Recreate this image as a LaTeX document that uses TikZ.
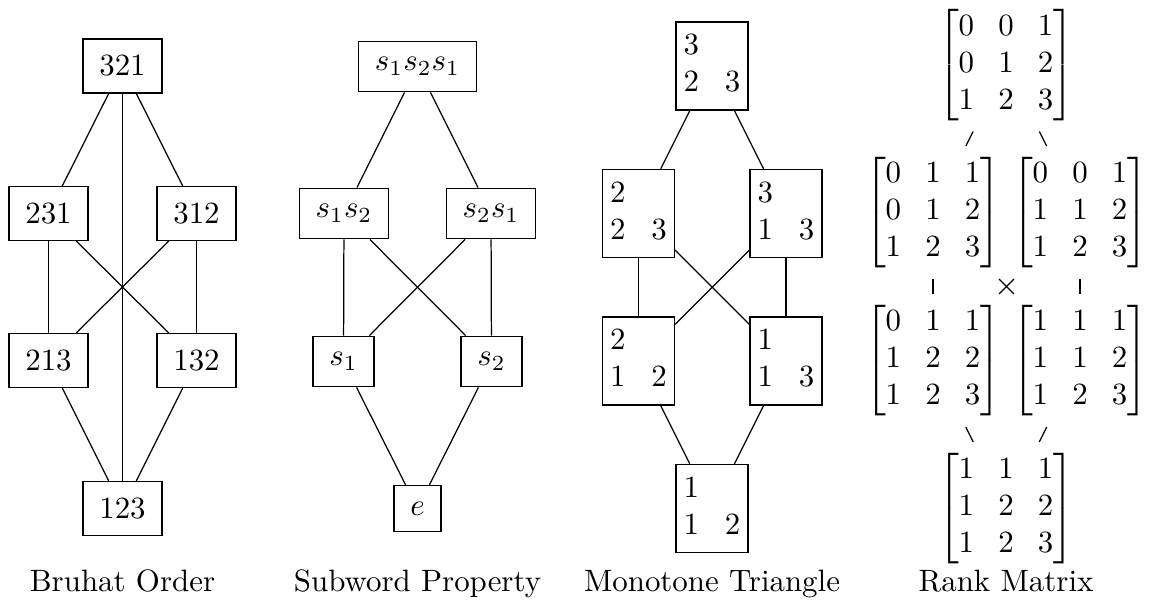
\documentclass[tikz,border=0pt]{standalone}
\usepackage{amsmath}
\begin{document}
\begin{tikzpicture}[x=0.3236pt, y=-0.3236pt,
  elem/.style={draw, inner sep=5.3pt},
  tri/.style={draw, minimum width=23.3pt, minimum height=28.5pt, inner sep=0pt},
  rank/.style={inner sep=3.33pt, execute at begin node={\arraycolsep=3.9pt}},
  caption/.style={anchor=base},
  cover/.style={line width=0.4pt}]
\useasboundingbox (0,0) rectangle (1149,601);

% Bruhat order on S_3
\node[elem] (b321) at (122.5,66)    {321};
\node[elem] (b231) at (48.5,213.5)  {231};
\node[elem] (b312) at (196.5,213.5) {312};
\node[elem] (b213) at (48.5,360.5)  {213};
\node[elem] (b132) at (196.5,360.5) {132};
\node[elem] (b123) at (122.5,508.5) {123};
\draw[cover] (b321) -- (b231);
\draw[cover] (b321) -- (b312);
\draw[cover] (b321) -- (b123);
\draw[cover] (b231) -- (b213);
\draw[cover] (b231) -- (b132);
\draw[cover] (b312) -- (b213);
\draw[cover] (b312) -- (b132);
\draw[cover] (b213) -- (b123);
\draw[cover] (b132) -- (b123);
\node[caption] (capB) at (122.5,592) {Bruhat Order};

% Reduced words
\node[elem] (w121) at (417.5,66.5)  {$s_1s_2s_1$};
\node[elem] (w12)  at (344,213.5)   {$s_1s_2$};
\node[elem] (w21)  at (491,213.5)   {$s_2s_1$};
\node[elem] (w1)   at (343.5,361.5) {$s_1$};
\node[elem] (w2)   at (491.5,361.5) {$s_2$};
\node[elem] (we)   at (417.5,508.5) {$e$};
\draw[cover] (w121) -- (w12);
\draw[cover] (w121) -- (w21);
\draw[cover] (w12) -- (w1);
\draw[cover] (w12) -- (w2);
\draw[cover] (w21) -- (w1);
\draw[cover] (w21) -- (w2);
\draw[cover] (w1) -- (we);
\draw[cover] (w2) -- (we);
\node[caption] (capS) at (417.5,592) {Subword Property};

% Monotone triangles
\newcommand{\mtri}[3]{\begin{tabular}{@{}l@{\hspace{8.3pt}}l@{}}#1&\\#2&#3\end{tabular}}
\node[tri] (m1) at (712,66)      {\mtri{3}{2}{3}};
\node[tri] (m2) at (638.5,213.5) {\mtri{2}{2}{3}};
\node[tri] (m3) at (786,213.5)   {\mtri{3}{1}{3}};
\node[tri] (m4) at (638.5,361)   {\mtri{2}{1}{2}};
\node[tri] (m5) at (786,361)     {\mtri{1}{1}{3}};
\node[tri] (m6) at (712,508.5)   {\mtri{1}{1}{2}};
\draw[cover] (m1) -- (m2);
\draw[cover] (m1) -- (m3);
\draw[cover] (m2) -- (m4);
\draw[cover] (m2) -- (m5);
\draw[cover] (m3) -- (m4);
\draw[cover] (m3) -- (m5);
\draw[cover] (m4) -- (m6);
\draw[cover] (m5) -- (m6);
\node[caption] (capM) at (712,592) {Monotone Triangle};

% Rank matrices
\node[rank] (r1) at (1006,65)    {$\begin{bmatrix}0&0&1\\0&1&2\\1&2&3\end{bmatrix}$};
\node[rank] (r2) at (933,212.5)  {$\begin{bmatrix}0&1&1\\0&1&2\\1&2&3\end{bmatrix}$};
\node[rank] (r3) at (1080,212.5) {$\begin{bmatrix}0&0&1\\1&1&2\\1&2&3\end{bmatrix}$};
\node[rank] (r4) at (933,360.5)  {$\begin{bmatrix}0&1&1\\1&2&2\\1&2&3\end{bmatrix}$};
\node[rank] (r5) at (1080,360.5) {$\begin{bmatrix}1&1&1\\1&1&2\\1&2&3\end{bmatrix}$};
\node[rank] (r6) at (1006,508.5) {$\begin{bmatrix}1&1&1\\1&2&2\\1&2&3\end{bmatrix}$};
\draw[cover] (r1) -- (r2);
\draw[cover] (r1) -- (r3);
\draw[cover] (r2) -- (r4);
\draw[cover] (r2) -- (r5);
\draw[cover] (r3) -- (r4);
\draw[cover] (r3) -- (r5);
\draw[cover] (r4) -- (r6);
\draw[cover] (r5) -- (r6);
\node[caption] (capR) at (1006,592) {Rank Matrix};
\end{tikzpicture}
\end{document}
